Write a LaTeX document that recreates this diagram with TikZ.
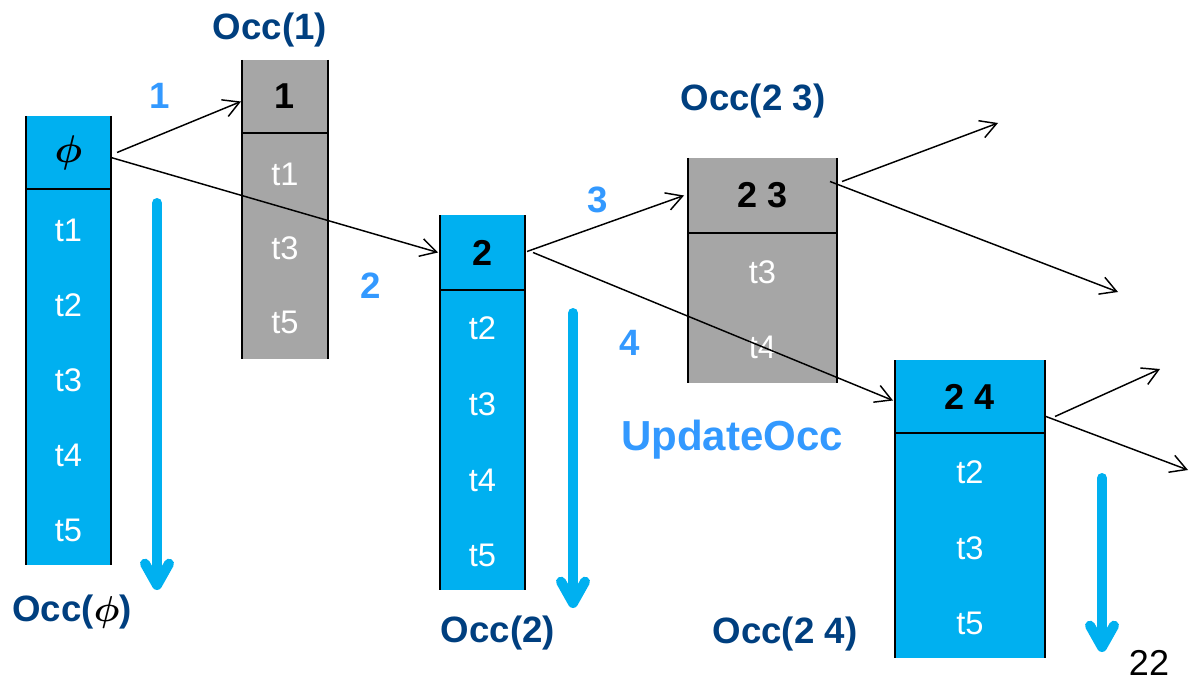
\documentclass[tikz,border=0pt]{standalone}
\usepackage{fontspec}
\setmainfont{Liberation Sans}
\usetikzlibrary{arrows.meta,calc}

\definecolor{boxcyan}{HTML}{00B0F0}
\definecolor{boxgray}{HTML}{A6A6A6}
\definecolor{occnavy}{HTML}{003F7F}
\definecolor{stepblue}{HTML}{3399FF}

% large italic phi, scaled from the normal-size bold math glyph
\newcommand{\bigphisym}[1]{\scalebox{#1}{\normalsize\boldmath$\phi$}}

\tikzset{
  cellbox/.style 2 args={inner sep=0pt, outer sep=0pt, draw=none,
    minimum width=#1*0.75pt, minimum height=#2*0.75pt},
  hdrtext/.style={font=\fontsize{27}{27}\selectfont\bfseries, text=black},
  rowtext/.style={font=\fontsize{24.5}{24.5}\selectfont, text=white, inner sep=0pt},
  occlabel/.style={font=\fontsize{27.5}{27.5}\selectfont\bfseries, text=occnavy, inner sep=0pt},
  steplabel/.style={font=\fontsize{27.5}{27.5}\selectfont\bfseries, text=stepblue, inner sep=0pt},
  edgeline/.style={draw=black, line width=1.8pt},
  conn/.style={draw=black, line width=1.1pt,
    -{Straight Barb[length=12pt,width=13.5pt]}},
  scanarrow/.style={draw=boxcyan, line width=7.5pt, line cap=round,
    -{Straight Barb[length=16pt,width=18pt,round]}},
}

\begin{document}
\begin{tikzpicture}[x=0.75pt,y=-0.75pt]
\useasboundingbox (0,0) rectangle (1197,685);

% ---- Occ(phi) ----
\node[cellbox={85}{73}, fill=boxcyan, hdrtext] (phiH) at (68.5,152.5) {\bigphisym{2.9}};
\node[cellbox={85}{376}, fill=boxcyan, anchor=north] (phiB) at (phiH.south) {};
\node[rowtext] (phiT1) at (68.5,230) {t1};
\node[rowtext] (phiT2) at (68.5,305) {t2};
\node[rowtext] (phiT3) at (68.5,380) {t3};
\node[rowtext] (phiT4) at (68.5,455) {t4};
\node[rowtext] (phiT5) at (68.5,530) {t5};
\draw[edgeline] (phiH.north west) -- (phiB.south west);
\draw[edgeline] (phiH.north east) -- (phiB.south east);
\draw[edgeline] (phiH.south west) -- (phiH.south east);

% ---- Occ(1) ----
\node[cellbox={86}{73}, fill=boxgray, hdrtext] (oneH) at (285,96.5) {1};
\node[cellbox={86}{226}, fill=boxgray, anchor=north] (oneB) at (oneH.south) {};
\node[rowtext] (oneT1) at (285,174) {t1};
\node[rowtext] (oneT3) at (285,248) {t3};
\node[rowtext] (oneT5) at (285,322) {t5};
\draw[edgeline] (oneH.north west) -- (oneB.south west);
\draw[edgeline] (oneH.north east) -- (oneB.south east);
\draw[edgeline] (oneH.south west) -- (oneH.south east);

% ---- Occ(2) ----
\node[cellbox={85}{75}, fill=boxcyan, hdrtext] (twoH) at (482.5,252.5) {2};
\node[cellbox={85}{300}, fill=boxcyan, anchor=north] (twoB) at (twoH.south) {};
\node[rowtext] (twoT2) at (482.5,328) {t2};
\node[rowtext] (twoT3) at (482.5,404) {t3};
\node[rowtext] (twoT4) at (482.5,480) {t4};
\node[rowtext] (twoT5) at (482.5,555) {t5};
\draw[edgeline] (twoH.north west) -- (twoB.south west);
\draw[edgeline] (twoH.north east) -- (twoB.south east);
\draw[edgeline] (twoH.south west) -- (twoH.south east);

% ---- Occ(2 3) ----
\node[cellbox={149}{75}, fill=boxgray, hdrtext] (ttH) at (762.5,195.5) {2 3};
\node[cellbox={149}{150}, fill=boxgray, anchor=north] (ttB) at (ttH.south) {};
\node[rowtext] (ttT3) at (762.5,272) {t3};
\node[rowtext] (ttT4) at (762.5,347) {t4};
\draw[edgeline] (ttH.north west) -- (ttB.south west);
\draw[edgeline] (ttH.north east) -- (ttB.south east);
\draw[edgeline] (ttH.south west) -- (ttH.south east);

% ---- Occ(2 4) ----
\node[cellbox={150}{73}, fill=boxcyan, hdrtext] (tfH) at (970,396.5) {2 4};
\node[cellbox={150}{225}, fill=boxcyan, anchor=north] (tfB) at (tfH.south) {};
\node[rowtext] (tfT2) at (970,472) {t2};
\node[rowtext] (tfT3) at (970,548) {t3};
\node[rowtext] (tfT5) at (970,623) {t5};
\draw[edgeline] (tfH.north west) -- (tfB.south west);
\draw[edgeline] (tfH.north east) -- (tfB.south east);
\draw[edgeline] (tfH.south west) -- (tfH.south east);

% ---- free ends of the open extensions ----
\coordinate (ttOutA) at (998,123);
\coordinate (ttOutB) at (1118,292);
\coordinate (tfOutA) at (1160,369);
\coordinate (tfOutB) at (1188,470);

% ---- extension arrows ----
\draw[conn] ($(phiH.east)+(6,0)$) -- ($(oneH.west)+(-1,5)$);
\draw[conn] ($(phiH.east)+(0,5)$) -- ($(twoH.west)+(-2,0)$);
\draw[conn] ($(twoH.east)+(2,-1)$) -- ($(ttH.west)+(-4,0)$);
\draw[conn] ($(twoH.east)+(8,0)$) -- ($(tfH.west)+(-2,4)$);
\draw[conn] ($(ttH.east)+(5,-14)$) -- (ttOutA);
\draw[conn] ($(ttH.east)+(-7,-14)$) -- (ttOutB);
\draw[conn] ($(tfH.east)+(10,20)$) -- (tfOutA);
\draw[conn] ($(tfH.east)+(1,20)$) -- (tfOutB);

% ---- scan direction arrows ----
\coordinate (scanA0) at (157,203);
\coordinate (scanA1) at (157,590);
\coordinate (scanB0) at (573,313);
\coordinate (scanB1) at (573,608);
\coordinate (scanC0) at (1102,478);
\coordinate (scanC1) at (1102,652);
\draw[scanarrow] (scanA0) -- (scanA1);
\draw[scanarrow] (scanB0) -- (scanB1);
\draw[scanarrow] (scanC0) -- (scanC1);

% ---- labels ----
\node[occlabel] (occ1) at (270,30) {Occ(1)};
\node[occlabel] (occ23) at (753,101) {Occ(2 3)};
\node[occlabel] (occphi) at (72,612) {Occ(\textcolor{black}{\bigphisym{2.7}})};
\node[occlabel] (occ2) at (498,633) {Occ(2)};
\node[occlabel] (occ24) at (785,634) {Occ(2 4)};

\node[steplabel] (s1) at (160,96) {1};
\node[steplabel] (s2) at (371,286) {2};
\node[steplabel] (s3) at (598,200) {3};
\node[steplabel] (s4) at (630,343) {4};
\node[font=\fontsize{31.5}{31.5}\selectfont\bfseries, text=stepblue, inner sep=0pt] (upd) at (732,440) {UpdateOcc};

\node[font=\fontsize{27}{27}\selectfont, text=black, inner sep=0pt] (pg) at (1149,663) {22};
\end{tikzpicture}
\end{document}
